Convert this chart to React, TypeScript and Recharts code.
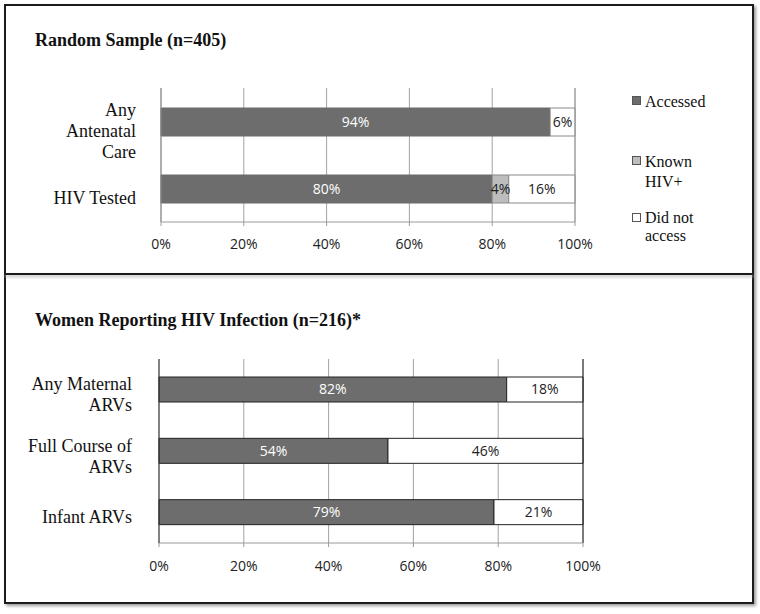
import React from 'react';
import { BarChart, Bar, XAxis, YAxis, CartesianGrid, LabelList, ReferenceLine } from 'recharts';

// top panel: random sample
const sampleCategories = ['Any Antenatal Care', 'HIV Tested'];
const sampleLabelLines = [['Any', 'Antenatal', 'Care'], ['HIV Tested']];
const sampleAccessed = [94, 80];
const sampleKnownPositive = [0, 4];
const sampleNotAccessed = [6, 16];

// bottom panel: women reporting HIV infection
const hivCategories = ['Any Maternal ARVs', 'Full Course of ARVs', 'Infant ARVs'];
const hivLabelLines = [['Any Maternal', 'ARVs'], ['Full Course of', 'ARVs'], ['Infant ARVs']];
const hivAccessed = [82, 54, 79];
const hivNotAccessed = [18, 46, 21];

const percentTicks = [0, 20, 40, 60, 80, 100];
const legendItems = ['Accessed', 'Known HIV+', 'Did not access'];

const SERIF = '"Liberation Serif", "Times New Roman", serif';
const SANS = '"Open Sans", "Liberation Sans", sans-serif';
const DARK = '#6d6d6d';
const LIGHT = '#bdbdbd';

const sampleData = sampleCategories.map((name, i) => ({
  name,
  accessed: sampleAccessed[i],
  known: sampleKnownPositive[i],
  notAccessed: sampleNotAccessed[i],
}));

const hivData = hivCategories.map((name, i) => ({
  name,
  accessed: hivAccessed[i],
  notAccessed: hivNotAccessed[i],
}));

const pct = (v: any) => (v ? `${v}%` : '');

function makeCategoryTick(categories: string[], lines: string[][], shift: number) {
  return (props: any) => {
    const { x, y, payload } = props;
    const rows = lines[categories.indexOf(payload.value)] ?? [String(payload.value)];
    const first = y + shift - (rows.length - 1) * 10.5;
    return (
      <text x={x} y={first} textAnchor="end" fontFamily={SERIF} fontSize={18} fill="#111">
        {rows.map((r, i) => (
          <tspan key={i} x={x} dy={i === 0 ? 0 : 21}>
            {r}
          </tspan>
        ))}
      </text>
    );
  };
}

const xTickStyle = { fontFamily: SANS, fontSize: 14, fill: '#222' };

export default function App() {
  return (
    <div style={{ position: 'fixed', left: 0, top: 0, width: 760, height: 614, background: '#fff' }}>
      {/* frame */}
      <div
        style={{
          position: 'absolute', left: 4, top: 4, width: 746, height: 596,
          border: '2px solid #1c1c1c', boxShadow: '2px 2px 3px #9a9a9a',
        }}
      />
      <div style={{ position: 'absolute', left: 5, top: 273, width: 748, height: 2, background: '#1c1c1c', boxShadow: '0 2px 3px #bbb' }} />

      <div style={{ position: 'absolute', left: 0, top: 0 }}>
        <BarChart
          width={760}
          height={274}
          layout="vertical"
          data={sampleData}
          margin={{ top: 88, right: 185, left: 11, bottom: 22 }}
        >
          <CartesianGrid horizontal={false} stroke="#a3a3a3" />
          <XAxis
            type="number"
            domain={[0, 100]}
            ticks={percentTicks}
            tickFormatter={v => `${v}%`}
            height={30}
            tickSize={4}
            tickMargin={13}
            stroke="#9a9a9a"
            tick={xTickStyle}
            interval={0}
          />
          <XAxis
            xAxisId="top"
            orientation="top"
            type="number"
            domain={[0, 100]}
            height={0}
            tick={false}
            tickLine={false}
            stroke="#9a9a9a"
          />
          <YAxis
            type="category"
            dataKey="name"
            width={150}
            tickLine={false}
            tickSize={0}
            tickMargin={25}
            stroke="#8a8a8a"
            tick={makeCategoryTick(sampleCategories, sampleLabelLines, 15)}
          />
          <ReferenceLine x={100} stroke="#9a9a9a" />
          <Bar dataKey="accessed" stackId="a" fill={DARK} stroke={DARK} barSize={28} isAnimationActive={false}>
            <LabelList dataKey="accessed" position="center" formatter={pct} fill="#fff" fontFamily={SANS} fontSize={14} />
          </Bar>
          <Bar dataKey="known" stackId="a" fill={LIGHT} stroke="#8a8a8a" barSize={28} isAnimationActive={false}>
            <LabelList dataKey="known" position="center" formatter={pct} fill="#222" fontFamily={SANS} fontSize={14} />
          </Bar>
          <Bar dataKey="notAccessed" stackId="a" fill="#fff" stroke="#8a8a8a" barSize={28} isAnimationActive={false}>
            <LabelList dataKey="notAccessed" position="center" formatter={pct} fill="#222" fontFamily={SANS} fontSize={14} />
          </Bar>
        </BarChart>
      </div>

      <div style={{ position: 'absolute', left: 0, top: 275 }}>
        <BarChart
          width={760}
          height={330}
          layout="vertical"
          data={hivData}
          margin={{ top: 84, right: 177, left: 9, bottom: 32 }}
        >
          <CartesianGrid horizontal={false} stroke="#a3a3a3" />
          <XAxis
            type="number"
            domain={[0, 100]}
            ticks={percentTicks}
            tickFormatter={v => `${v}%`}
            height={30}
            tickSize={4}
            tickMargin={14}
            stroke="#9a9a9a"
            tick={xTickStyle}
            interval={0}
          />
          <XAxis
            xAxisId="top"
            orientation="top"
            type="number"
            domain={[0, 100]}
            height={0}
            tick={false}
            tickLine={false}
            stroke="#222"
          />
          <YAxis
            type="category"
            dataKey="name"
            width={150}
            tickLine={false}
            tickSize={0}
            tickMargin={27}
            stroke="#333"
            tick={makeCategoryTick(hivCategories, hivLabelLines, 11)}
          />
          <ReferenceLine x={100} stroke="#222" />
          <Bar dataKey="accessed" stackId="a" fill={DARK} stroke="#222" barSize={25} isAnimationActive={false}>
            <LabelList dataKey="accessed" position="center" formatter={pct} fill="#fff" fontFamily={SANS} fontSize={14} />
          </Bar>
          <Bar dataKey="notAccessed" stackId="a" fill="#fff" stroke="#222" barSize={25} isAnimationActive={false}>
            <LabelList dataKey="notAccessed" position="center" formatter={pct} fill="#222" fontFamily={SANS} fontSize={14} />
          </Bar>
        </BarChart>
      </div>

      {/* titles and legend */}
      <svg width={760} height={614} style={{ position: 'absolute', left: 0, top: 0, pointerEvents: 'none' }}>
        <text x={35} y={46} fontFamily={SERIF} fontSize={18} fontWeight="bold" fill="#111">
          Random Sample (n=405)
        </text>
        <text x={35} y={326} fontFamily={SERIF} fontSize={18} fontWeight="bold" fill="#111">
          Women Reporting HIV Infection (n=216)*
        </text>

        <rect x={632.5} y={96.5} width={8} height={8} fill={DARK} stroke="#555" />
        <text x={645} y={107} fontFamily={SERIF} fontSize={16} fill="#111">{legendItems[0]}</text>

        <rect x={632.5} y={156.5} width={8} height={8} fill={LIGHT} stroke="#555" />
        <text x={645} y={167} fontFamily={SERIF} fontSize={16} fill="#111">
          <tspan x={645}>Known</tspan>
          <tspan x={645} dy={20}>HIV+</tspan>
        </text>

        <rect x={632.5} y={213.5} width={8} height={8} fill="#fff" stroke="#555" />
        <text x={645} y={223} fontFamily={SERIF} fontSize={16} fill="#111">
          <tspan x={645}>Did not</tspan>
          <tspan x={645} dy={18}>access</tspan>
        </text>
      </svg>
    </div>
  );
}
